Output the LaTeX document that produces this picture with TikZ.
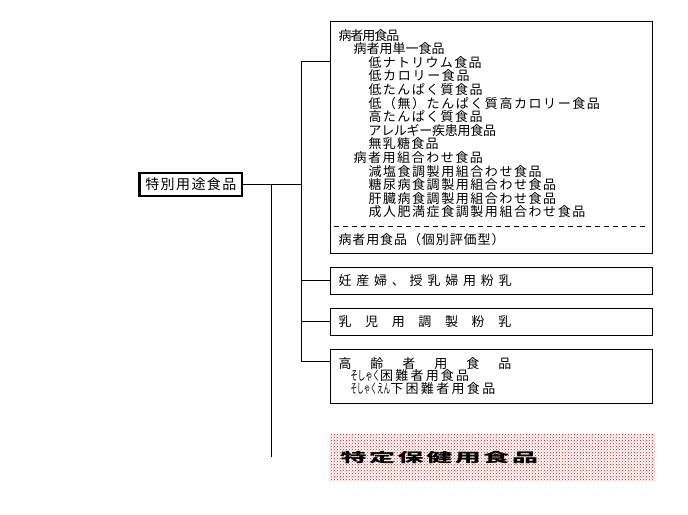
\documentclass[tikz,border=0pt]{standalone}
\usepackage{fontspec}
\usepackage{graphicx}
\usetikzlibrary{patterns}
\newfontfamily\jp{Noto Sans CJK JP}
\newcommand\LS[2]{{\addfontfeature{LetterSpace=#1}#2}}
\begin{document}
\begin{tikzpicture}[x=1pt,y=-1pt,line width=1pt,
  txt/.style={font=\jp\fontsize{13}{14}\selectfont, anchor=west, inner sep=0pt, text height=11.3pt, text depth=1.7pt},
  box/.style={draw, line width=1pt, inner sep=0pt, anchor=north west, minimum width=322pt},
  conn/.style={draw, line width=1pt}]
\useasboundingbox (0,0) rectangle (688,514);

% main node
\node[draw, line width=2.7pt, minimum width=102.3pt, minimum height=23pt, inner sep=0pt,
      font=\jp\fontsize{14}{15}\selectfont] (m) at (190.8,184.5) {\LS{10}{特別用途食品}};

% boxes
\node[box, minimum height=232pt] (b1) at (329.5,20.5) {};
\node[box, minimum height=27pt] (b2) at (329.5,266.5) {};
\node[box, minimum height=27pt] (b3) at (329.5,307.5) {};
\node[box, minimum height=53.5pt] (b4) at (329.5,349) {};
\node[pattern=crosshatch dots, pattern color=red, minimum width=325pt, minimum height=46pt,
      anchor=north west, inner sep=0pt] (sh) at (329,434) {};

% box 1 texts
\foreach \x/\y/\s/\t [count=\i] in {
  338/35.3/-8/病者用食品,
  353/48.9/0/病者用単一食品,
  368/62.5/10/低ナトリウム食品,
  368/76.1/13/低カロリー食品,
  368/89.7/11/低たんぱく質食品,
  368/103.3/12/低（無）たんぱく質高カロリー食品,
  368/116.9/11/高たんぱく質食品,
  368/130.5/-2/アレルギー疾患用食品,
  368/144.1/10/無乳糖食品,
  353/157.7/12/病者用組合わせ食品,
  368/171.3/12/減塩食調製用組合わせ食品,
  368/184.9/12/糖尿病食調製用組合わせ食品,
  368/198.5/12/肝臓病食調製用組合わせ食品,
  368/212.1/12/成人肥満症食調製用組合わせ食品,
  338/240/7/病者用食品（個別評価型）}
  \node[txt] (l\i) at (\x,\y) {\LS{\s}{\t}};

\coordinate (d1) at (334,226);
\coordinate (d2) at (648,226);
\draw[dash pattern=on 5pt off 4pt] (d1) -- (d2);

% other box texts
\node[txt] (t2) at (338,281) {\LS{37}{妊産婦、授乳婦用粉乳}};
\node[txt] (t3) at (338,321.5) {\LS{105}{乳児用調製粉乳}};
\node[txt] (t4) at (338,364) {\LS{146}{高齢者用食品}};
\node[txt] (t5) at (350,375.5) {\scalebox{0.57}[1]{そしゃく}\LS{17}{困難者用食品}};
\node[txt] (t6) at (350,389) {\scalebox{0.51}[1]{そしゃくえん}\LS{18}{下困難者用食品}};

\node[anchor=west, inner sep=0pt, font=\jp\bfseries\fontsize{13}{14}\selectfont,
      text height=11.3pt, text depth=1.7pt] (st) at (340,457.5) {\scalebox{2}[1]{\LS{10}{特定保健用食品}}};

% connectors
\coordinate (s1top) at (301,61.7);
\coordinate (s1bot) at (301,361);
\coordinate (s0top) at (271.7,184.5);
\coordinate (s0bot) at (271.7,457);
\draw (m.east) -- (m.east -| s1top);
\draw (s1top) -- (s1bot);
\draw (s0top) -- (s0bot);
\draw (s1top) -- (s1top -| b1.west);
\draw (s1top |- b2.west) -- (b2.west);
\draw (s1top |- b3.west) -- (b3.west);
\draw (s1bot) -- (s1bot -| b4.west);
\end{tikzpicture}
\end{document}
